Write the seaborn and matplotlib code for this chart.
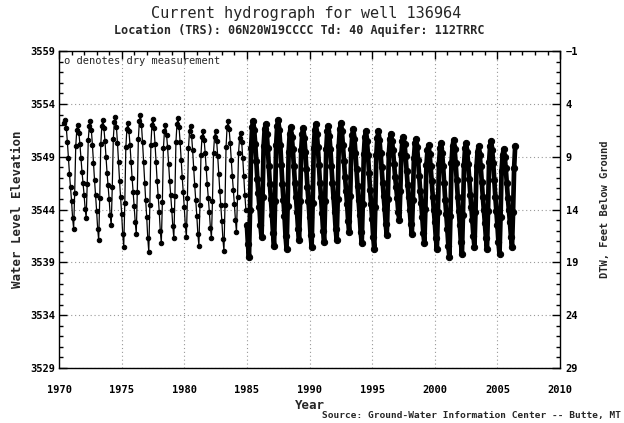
import matplotlib
matplotlib.use("Agg")
import matplotlib.pyplot as plt
import numpy as np
import pandas as pd
import seaborn as sns
from matplotlib.ticker import MultipleLocator

# Monthly water level elevation (ft), manual readings Jun 1970 - Dec 1984
sparse_start = 1970 + 5 / 12
sparse_levels = [
    3552.2, 3552.5, 3551.7, 3550.4, 3548.9, 3547.4, 3546.1,
    3544.8, 3543.2, 3542.2, 3545.6, 3550.0, 3551.5, 3552.0, 3551.3, 3550.2, 3548.9, 3547.6, 3546.5,
    3545.4, 3544.1, 3543.2, 3546.4, 3550.6, 3551.9, 3552.4, 3551.5, 3550.1, 3548.4, 3546.8, 3545.4,
    3543.9, 3542.2, 3541.1, 3545.1, 3550.2, 3551.9, 3552.5, 3551.7, 3550.5, 3549.0, 3547.5, 3546.3,
    3545.0, 3543.5, 3542.5, 3546.1, 3550.7, 3552.3, 3552.8, 3551.8, 3550.3, 3548.5, 3546.7, 3545.2,
    3543.6, 3541.7, 3540.5, 3544.6, 3549.9, 3551.6, 3552.2, 3551.4, 3550.1, 3548.5, 3547.0, 3545.7,
    3544.3, 3542.8, 3541.7, 3545.7, 3550.7, 3552.4, 3553.0, 3552.0, 3550.4, 3548.5, 3546.5, 3544.9,
    3543.3, 3541.3, 3540.0, 3544.4, 3550.1, 3552.0, 3552.6, 3551.7, 3550.2, 3548.5, 3546.7, 3545.3,
    3543.8, 3542.0, 3540.8, 3544.7, 3549.8, 3551.4, 3552.0, 3551.1, 3549.9, 3548.3, 3546.7, 3545.4,
    3544.0, 3542.4, 3541.3, 3545.3, 3550.4, 3552.1, 3552.7, 3551.8, 3550.4, 3548.7, 3547.1, 3545.7,
    3544.2, 3542.5, 3541.4, 3545.1, 3549.8, 3551.4, 3551.9, 3551.0, 3549.6, 3547.9, 3546.3, 3544.9,
    3543.4, 3541.7, 3540.6, 3544.4, 3549.2, 3550.9, 3551.4, 3550.6, 3549.4, 3547.9, 3546.4, 3545.1,
    3543.8, 3542.3, 3541.3, 3544.8, 3549.4, 3550.9, 3551.4, 3550.5, 3549.1, 3547.4, 3545.8, 3544.4,
    3542.9, 3541.2, 3540.1, 3544.4, 3549.9, 3551.8, 3552.4, 3551.6, 3550.3, 3548.7, 3547.2, 3545.9,
    3544.5, 3543.0, 3541.9, 3545.2, 3549.4, 3550.8, 3551.3, 3550.4, 3548.9, 3547.2, 3545.4, 3544.0,
]

# Recorder period Jan 1985 - Jun 2006 (monthly readings of the dense record)
dense_start = 1985.0
dense_levels = [
    3542.5, 3540.7, 3539.5, 3544.0, 3549.8, 3551.8, 3552.4, 3551.5, 3550.2, 3548.6, 3546.9, 3545.6,
    3544.2, 3542.5, 3541.4, 3545.2, 3550.0, 3551.6, 3552.1, 3551.2, 3549.8, 3548.1, 3546.4, 3545.0,
    3543.5, 3541.8, 3540.6, 3544.8, 3550.1, 3551.9, 3552.5, 3551.5, 3550.1, 3548.2, 3546.4, 3544.9,
    3543.4, 3541.5, 3540.3, 3544.3, 3549.5, 3551.2, 3551.8, 3550.9, 3549.7, 3548.1, 3546.5, 3545.2,
    3543.8, 3542.2, 3541.1, 3544.8, 3549.6, 3551.2, 3551.7, 3550.8, 3549.5, 3547.8, 3546.1, 3544.8,
    3543.3, 3541.6, 3540.5, 3544.6, 3549.8, 3551.5, 3552.1, 3551.2, 3549.9, 3548.2, 3546.5, 3545.2,
    3543.7, 3542.0, 3540.9, 3544.8, 3549.7, 3551.4, 3551.9, 3551.0, 3549.7, 3548.1, 3546.5, 3545.2,
    3543.8, 3542.2, 3541.1, 3545.0, 3550.0, 3551.6, 3552.2, 3551.4, 3550.1, 3548.6, 3547.1, 3545.8,
    3544.5, 3542.9, 3541.9, 3545.3, 3549.7, 3551.1, 3551.6, 3550.7, 3549.4, 3547.8, 3546.2, 3544.9,
    3543.5, 3541.9, 3540.8, 3544.5, 3549.3, 3550.9, 3551.4, 3550.5, 3549.2, 3547.5, 3545.9, 3544.5,
    3543.1, 3541.4, 3540.3, 3544.2, 3549.2, 3550.8, 3551.4, 3550.6, 3549.4, 3548.0, 3546.5, 3545.3,
    3544.1, 3542.6, 3541.6, 3545.0, 3549.3, 3550.7, 3551.2, 3550.5, 3549.6, 3548.3, 3547.1, 3546.1,
    3545.1, 3543.8, 3543.0, 3545.8, 3549.3, 3550.5, 3550.9, 3550.2, 3549.1, 3547.7, 3546.3, 3545.2,
    3544.0, 3542.6, 3541.7, 3544.9, 3548.9, 3550.3, 3550.7, 3549.9, 3548.7, 3547.2, 3545.8, 3544.6,
    3543.3, 3541.8, 3540.8, 3544.1, 3548.2, 3549.6, 3550.1, 3549.3, 3548.1, 3546.7, 3545.2, 3544.0,
    3542.8, 3541.3, 3540.3, 3543.8, 3548.3, 3549.8, 3550.3, 3549.4, 3548.1, 3546.5, 3544.9, 3543.6,
    3542.2, 3540.6, 3539.5, 3543.4, 3548.4, 3550.0, 3550.6, 3549.7, 3548.4, 3546.8, 3545.2, 3543.9,
    3542.5, 3540.9, 3539.8, 3543.5, 3548.2, 3549.8, 3550.3, 3549.5, 3548.3, 3546.9, 3545.4, 3544.2,
    3543.0, 3541.5, 3540.5, 3543.8, 3548.1, 3549.5, 3550.0, 3549.2, 3548.1, 3546.6, 3545.2, 3544.0,
    3542.7, 3541.3, 3540.3, 3543.9, 3548.5, 3550.0, 3550.5, 3549.6, 3548.4, 3546.8, 3545.2, 3543.9,
    3542.5, 3540.9, 3539.8, 3543.3, 3547.7, 3549.2, 3549.7, 3549.0, 3547.9, 3546.5, 3545.1, 3544.0,
    3542.8, 3541.4, 3540.5, 3543.8, 3547.9, 3550.0,
]

land_surface = 3558  # elevation where DTW = 0
elev_ticks = [3529, 3534, 3539, 3544, 3549, 3554, 3559]
dtw_ticks = [-1, 4, 9, 14, 19, 24, 29]
year_ticks = [1970, 1975, 1980, 1985, 1990, 1995, 2000, 2005, 2010]

sparse = pd.DataFrame({
    "year": sparse_start + np.arange(len(sparse_levels)) / 12,
    "level": sparse_levels,
})
dense = pd.DataFrame({
    "year": dense_start + np.arange(len(dense_levels)) / 12,
    "level": dense_levels,
})

sns.set_theme(style="white")
plt.rcParams["font.family"] = ["DejaVu Sans Mono", "DejaVu Sans"]

fig = plt.figure(figsize=(6.24, 4.23), dpi=100)
ax = fig.add_axes([0.0946, 0.130, 0.8029, 0.749])

sns.lineplot(data=sparse, x="year", y="level", ax=ax, color="black",
             linewidth=0.9, marker="o", markersize=3.2, markeredgecolor="black",
             estimator=None, sort=False)
sns.lineplot(data=dense, x="year", y="level", ax=ax, color="black",
             linewidth=3.4, marker="o", markersize=4.5, markeredgecolor="black",
             estimator=None, sort=False)

ax.set_xlim(1970, 2010)
ax.set_ylim(3529, 3559)
ax.set_xticks(year_ticks)
ax.set_yticks(elev_ticks)
ax.xaxis.set_minor_locator(MultipleLocator(1))
ax.yaxis.set_minor_locator(MultipleLocator(1))
ax.grid(True, which="major", linestyle=(0, (1, 2.5)), color="#999999", linewidth=0.8)
ax.tick_params(which="both", direction="in", top=True, right=False, colors="black",
               labelsize=7.5)
ax.tick_params(axis="x", pad=12)
ax.tick_params(axis="y", pad=3)
ax.tick_params(which="major", length=6, width=1)
ax.tick_params(which="minor", length=3, width=1)
for lab in ax.get_xticklabels() + ax.get_yticklabels():
    lab.set_fontweight("bold")
for side in ax.spines.values():
    side.set_color("black")
    side.set_linewidth(1.0)

ax.set_xlabel("Year", fontsize=9, fontweight="bold", labelpad=3)
ax.set_ylabel("Water Level Elevation", fontsize=9, fontweight="bold", labelpad=4)

ax2 = ax.twinx()
ax2.set_ylim(land_surface - 3529, land_surface - 3559)
ax2.set_yticks(dtw_ticks)
ax2.yaxis.set_minor_locator(MultipleLocator(1))
ax2.tick_params(which="both", direction="in", colors="black", labelsize=7.5, pad=4)
ax2.tick_params(which="major", length=6, width=1)
ax2.tick_params(which="minor", length=3, width=1)
for lab in ax2.get_yticklabels():
    lab.set_fontweight("bold")
ax2.set_ylabel("DTW, Feet Below Ground", fontsize=7.5, fontweight="bold",
               rotation=90, labelpad=16)
for side in ax2.spines.values():
    side.set_visible(False)

ax.text(0.01, 0.985, "o denotes dry measurement", transform=ax.transAxes,
        fontsize=7.5, ha="left", va="top")

fig.text(0.49, 0.967, "Current hydrograph for well 136964", fontsize=11,
         ha="center", va="center")
fig.text(0.48, 0.929, "Location (TRS): 06N20W19CCCC Td: 40 Aquifer: 112TRRC",
         fontsize=8.5, fontweight="bold", ha="center", va="center")
fig.text(0.995, 0.018, "Source: Ground-Water Information Center -- Butte, MT",
         fontsize=6.8, fontweight="bold", ha="right", va="center")

fig.savefig("out.png", dpi=100)
